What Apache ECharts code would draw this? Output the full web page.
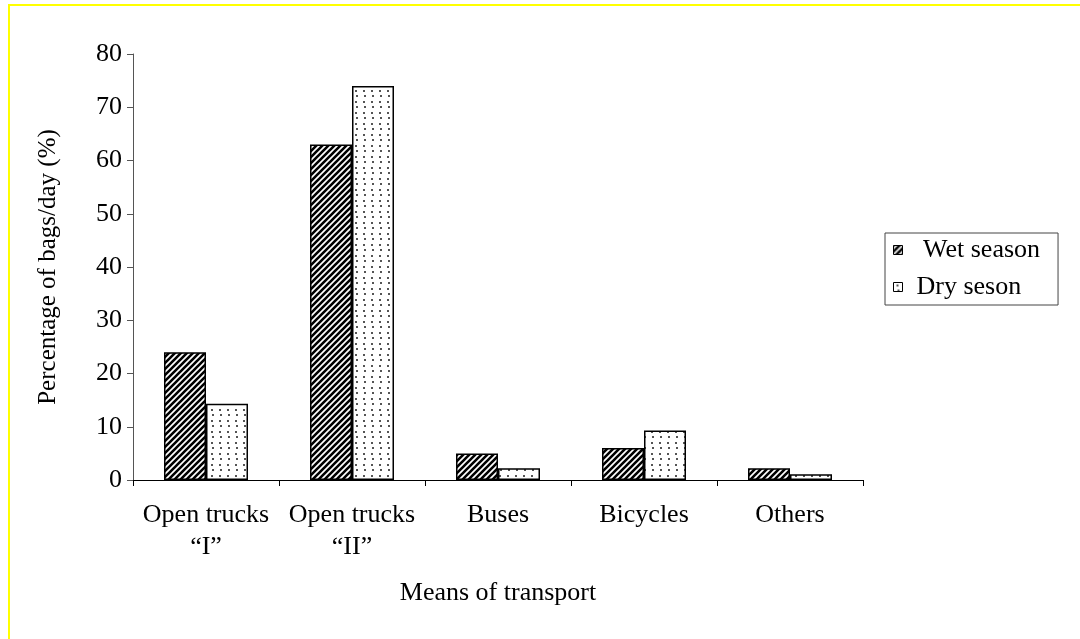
<!DOCTYPE html>
<html>
<head>
<meta charset="utf-8">
<script src="https://cdn.jsdelivr.net/npm/echarts@6/dist/echarts.min.js"></script>
<style>
  html, body { margin: 0; padding: 0; background: #fff; }
  #frame {
    position: absolute; left: 8px; top: 4px; width: 1072px; height: 635px;
    border-top: 2px solid #ffff00; border-left: 2px solid #ffff00;
    box-sizing: border-box;
  }
  #main { position: absolute; left: 0; top: 0; width: 1080px; height: 639px; }
</style>
</head>
<body>
<div id="frame"></div>
<div id="main"></div>
<script>
var categories = ['Open trucks\n\u201cI\u201d', 'Open trucks\n\u201cII\u201d', 'Buses', 'Bicycles', 'Others'];
var wetSeason = [24, 63, 5, 6, 2.2];
var drySeason = [14.3, 74, 2.2, 9.3, 1.1];

// hatch pattern for wet season
function hatch() {
  var c = document.createElement('canvas');
  c.width = 6; c.height = 6;
  var g = c.getContext('2d');
  g.fillStyle = '#fff';
  g.fillRect(0, 0, 6, 6);
  g.strokeStyle = '#000';
  g.lineWidth = 2.6;
  g.beginPath();
  g.moveTo(-1, 7); g.lineTo(7, -1);
  g.moveTo(-4, 4); g.lineTo(4, -4);
  g.moveTo(2, 10); g.lineTo(10, 2);
  g.stroke();
  return c;
}
// dotted pattern for dry season
function dots() {
  var c = document.createElement('canvas');
  c.width = 16; c.height = 11;
  var g = c.getContext('2d');
  g.fillStyle = '#fff';
  g.fillRect(0, 0, 16, 11);
  g.fillStyle = '#555';
  g.fillRect(3, 2, 2, 2);
  g.fillRect(11, 2, 2, 2);
  g.fillRect(4, 7, 2, 2);
  g.fillRect(12, 7, 2, 2);
  return c;
}

var font = 'Liberation Serif';
var myChart = echarts.init(document.getElementById('main'));
myChart.setOption({
  animation: false,
  textStyle: { fontFamily: font, color: '#000' },
  grid: { left: 133, right: 217, top: 54, bottom: 159 },
  legend: {
    orient: 'vertical',
    left: 885, top: 233,
    padding: [4, 18, 5, 8],
    itemGap: 11,
    itemWidth: 9, itemHeight: 9,
    itemStyle: { borderColor: '#000', borderWidth: 1 },
    borderColor: '#444', borderWidth: 1,
    textStyle: { fontFamily: font, fontSize: 26, color: '#000', padding: [0, 0, 0, 9] },
    formatter: function (name) { return name === 'Wet season' ? ' ' + name : name; },
    data: [
      { name: 'Wet season', icon: 'rect' },
      { name: 'Dry seson', icon: 'rect' }
    ]
  },
  xAxis: {
    type: 'category',
    data: categories,
    name: 'Means of transport',
    nameLocation: 'middle',
    nameGap: 100,
    nameTextStyle: { fontFamily: font, fontSize: 26, color: '#000' },
    axisLine: { lineStyle: { color: '#000', width: 1 } },
    axisTick: { show: true, length: 6, alignWithLabel: false, lineStyle: { color: '#000' } },
    axisLabel: { fontFamily: font, fontSize: 26, color: '#000', margin: 19, lineHeight: 32, interval: 0 }
  },
  yAxis: {
    type: 'value',
    min: 0, max: 80, interval: 10,
    name: 'Percentage of bags/day (%)',
    nameLocation: 'middle',
    nameGap: 72,
    nameTextStyle: { fontFamily: font, fontSize: 25, color: '#000' },
    splitLine: { show: false },
    axisLine: { show: true, lineStyle: { color: '#555', width: 1 } },
    axisTick: { show: true, length: 6, lineStyle: { color: '#555' } },
    axisLabel: { fontFamily: font, fontSize: 26, color: '#000', margin: 11 }
  },
  series: [
    {
      name: 'Wet season',
      type: 'bar',
      data: wetSeason,
      barWidth: 42,
      barGap: '0%',
      itemStyle: { color: { image: hatch(), repeat: 'repeat' }, borderColor: '#000', borderWidth: 1.5 }
    },
    {
      name: 'Dry seson',
      type: 'bar',
      data: drySeason,
      barWidth: 42,
      barGap: '0%',
      itemStyle: { color: { image: dots(), repeat: 'repeat' }, borderColor: '#000', borderWidth: 1.5 }
    }
  ]
});
</script>
</body>
</html>
